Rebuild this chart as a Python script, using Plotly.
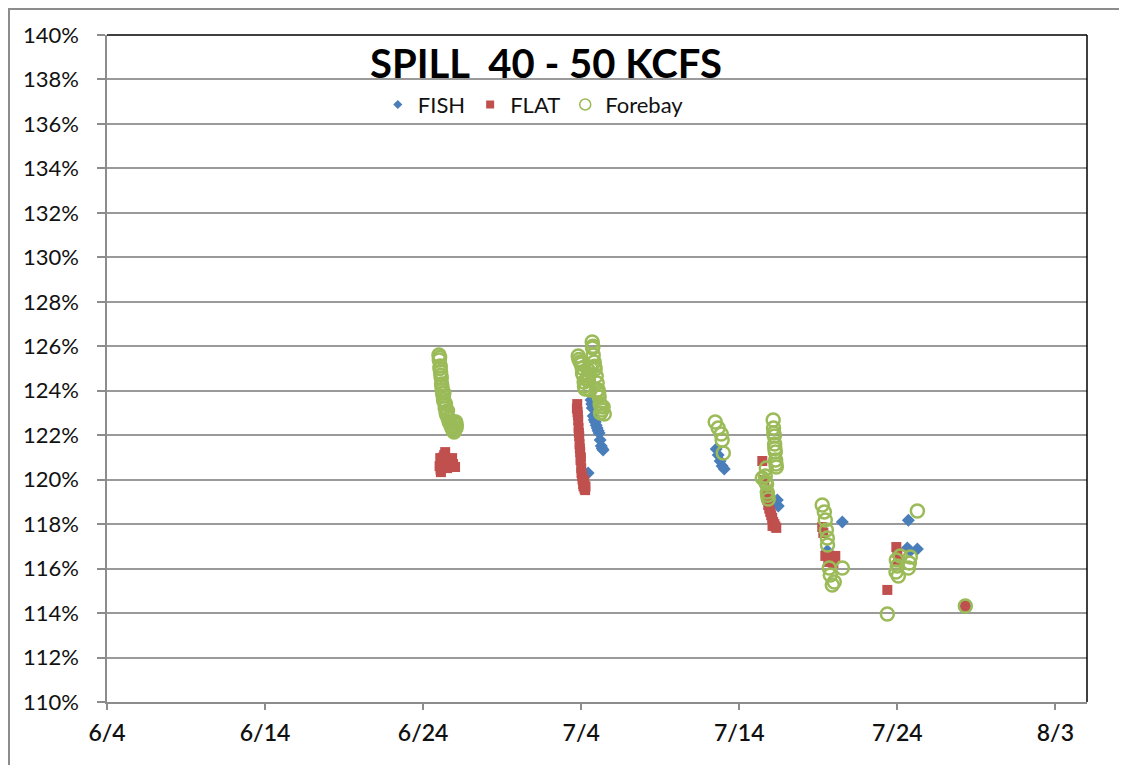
import plotly.graph_objects as go

YEAR = "2011"

# ---- data ----
fish_time = ["06-25 06:00", "06-25 14:00",
             "07-04 10:30", "07-04 15:00", "07-04 16:00", "07-04 16:45", "07-04 18:15",
             "07-04 19:45", "07-04 21:15", "07-04 22:45",
             "07-05 00:15", "07-05 01:45", "07-05 03:15", "07-05 04:45", "07-05 06:30",
             "07-05 08:00", "07-05 09:20",
             "07-12 13:00", "07-12 16:00", "07-12 19:00", "07-12 22:00", "07-13 01:15",
             "07-16 09:45", "07-16 11:15",
             "07-19 13:40", "07-20 12:30",
             "07-24 15:10", "07-24 16:45", "07-24 19:40", "07-25 06:25",
             "07-28 07:15"]
fish_value = [120.9, 120.7,
              120.30, 123.58, 123.40, 123.22, 122.86,
              122.70, 122.59, 122.45,
              122.32, 122.20, 122.10, 121.78, 121.51,
              121.40, 121.33,
              121.38, 121.11, 120.84, 120.61, 120.48,
              119.08, 118.81,
              116.8, 118.10,
              116.93, 118.18, 116.79, 116.88,
              114.32]

flat_time = ["06-25 01:00", "06-25 02:00", "06-25 02:30", "06-25 03:00", "06-25 04:00",
             "06-25 05:30", "06-25 06:30", "06-25 08:00", "06-25 09:30", "06-25 10:00",
             "06-25 11:00", "06-25 12:30", "06-25 14:00", "06-25 15:30", "06-25 17:00",
             "06-25 19:00", "06-25 20:00", "06-25 21:30", "06-26 00:30",
             "07-03 17:30", "07-03 18:00", "07-03 18:30", "07-03 19:00", "07-03 19:30",
             "07-03 20:00", "07-03 20:30", "07-03 21:00", "07-03 21:30", "07-03 22:00",
             "07-03 22:30", "07-03 23:00", "07-03 23:30", "07-04 00:00", "07-04 00:30",
             "07-04 01:30", "07-04 02:00", "07-04 03:00", "07-04 03:30", "07-04 04:30",
             "07-04 05:00", "07-04 06:00", "07-04 06:30",
             "07-15 11:00", "07-15 14:00", "07-15 17:00", "07-15 18:30", "07-15 20:00",
             "07-15 21:30", "07-15 23:00", "07-16 00:30", "07-16 02:00", "07-16 02:30",
             "07-16 03:30", "07-16 05:15", "07-16 06:45", "07-16 08:15",
             "07-19 06:00", "07-19 07:40", "07-19 10:40", "07-19 15:10", "07-19 18:15",
             "07-19 22:50", "07-20 01:50",
             "07-23 08:50", "07-23 22:30", "07-24 00:00", "07-24 01:00",
             "07-28 07:15"]
flat_value = [120.61, 120.97, 120.45, 120.34, 120.79,
              120.60, 121.00, 121.11, 121.24, 120.70,
              120.88, 120.52, 120.90, 120.60, 120.79,
              120.75, 120.97, 120.70, 120.57,
              123.20, 123.40, 123.04, 122.90, 122.68,
              122.32, 122.10, 121.96, 121.60, 121.40,
              121.24, 120.88, 121.00, 120.52, 120.30,
              120.16, 120.00, 119.80, 119.70, 119.98,
              119.60, 119.53, 119.70,
              120.84, 119.98, 119.31, 119.10, 118.86,
              118.70, 118.55, 118.40, 118.28, 117.92,
              118.10, 118.00, 117.90, 117.83,
              117.87, 117.60, 116.57, 116.30, 116.57,
              116.25, 116.57,
              115.04, 116.97, 116.70, 116.39,
              114.32]

forebay_time = ["06-25 00:00", "06-25 00:30", "06-25 01:00", "06-25 01:30", "06-25 02:00",
                "06-25 02:30", "06-25 03:00", "06-25 03:30", "06-25 04:00", "06-25 04:30",
                "06-25 05:00", "06-25 05:30", "06-25 06:30", "06-25 07:00", "06-25 07:30",
                "06-25 08:00", "06-25 09:30", "06-25 10:00", "06-25 11:00", "06-25 12:00",
                "06-25 13:00", "06-25 14:00", "06-25 15:30", "06-25 17:00", "06-25 18:30",
                "06-25 20:00", "06-25 21:30", "06-25 22:00", "06-25 23:00", "06-26 00:30",
                "06-26 01:30", "06-26 02:00", "06-26 02:30",
                "07-03 19:30", "07-03 20:30", "07-03 22:30", "07-04 00:00", "07-04 01:30",
                "07-04 02:00", "07-04 03:00", "07-04 04:30", "07-04 05:00", "07-04 06:00",
                "07-04 08:00", "07-04 10:30", "07-04 11:00", "07-04 12:00", "07-04 13:30",
                "07-04 15:00", "07-04 16:45", "07-04 17:15", "07-04 17:45", "07-04 18:15",
                "07-04 19:45", "07-04 20:30", "07-04 21:15", "07-04 22:45", "07-04 23:30",
                "07-05 00:15", "07-05 01:45", "07-05 02:30", "07-05 03:15", "07-05 04:45",
                "07-05 05:30", "07-05 06:00", "07-05 07:45", "07-05 09:20", "07-05 11:00",
                "07-12 11:30", "07-12 16:00", "07-12 20:40", "07-12 22:00", "07-12 23:45",
                "07-15 11:00", "07-15 15:30", "07-15 16:00", "07-15 17:00", "07-15 17:30",
                "07-15 18:30", "07-15 19:00", "07-15 20:00", "07-16 03:30", "07-16 04:00",
                "07-16 04:30", "07-16 05:15", "07-16 05:45", "07-16 06:00", "07-16 06:45",
                "07-16 07:15", "07-16 07:45", "07-16 08:15",
                "07-19 06:00", "07-19 09:10", "07-19 10:40", "07-19 12:15", "07-19 13:40",
                "07-19 14:00", "07-19 16:40", "07-19 18:15", "07-19 21:15", "07-20 00:15",
                "07-20 12:30",
                "07-23 08:50", "07-23 22:00", "07-23 22:30", "07-24 00:00", "07-24 01:30",
                "07-24 04:30", "07-24 16:45", "07-24 18:15", "07-24 19:40", "07-25 06:25",
                "07-28 07:15"]
forebay_value = [125.61, 125.38, 125.50, 125.00, 125.11,
                 124.84, 124.70, 124.57, 124.30, 124.20,
                 124.03, 123.90, 123.76, 123.60, 123.90,
                 123.49, 123.22, 123.40, 123.00, 122.90,
                 123.10, 122.77, 122.60, 122.55, 122.40,
                 122.32, 122.20, 122.60, 122.14, 122.50,
                 122.59, 122.32, 122.45,
                 125.56, 125.40, 125.29, 125.20, 125.02,
                 124.80, 124.71, 124.39, 124.20, 124.08,
                 124.50, 124.93, 124.48, 124.70, 124.03,
                 125.00, 126.19, 125.92, 126.00, 125.61,
                 125.29, 125.10, 124.98, 124.66, 124.00,
                 124.35, 124.03, 123.90, 123.72, 123.40,
                 123.00, 123.30, 123.13, 123.27, 122.95,
                 122.59, 122.32, 122.05, 121.78, 121.20,
                 120.07, 120.16, 119.90, 120.52, 119.80,
                 119.44, 119.30, 119.13, 122.68, 122.32,
                 122.10, 121.96, 121.60, 121.40, 121.24,
                 120.88, 120.70, 120.57,
                 118.86, 118.55, 118.19, 117.74, 117.38,
                 117.06, 116.03, 115.71, 115.26, 115.40,
                 116.03,
                 113.96, 115.85, 116.39, 116.12, 115.67,
                 116.57, 116.03, 116.25, 116.52, 118.59,
                 114.32]

tick_dates = ["06-04", "06-14", "06-24", "07-04", "07-14", "07-24", "08-03"]
tick_labels = ["6/4", "6/14", "6/24", "7/4", "7/14", "7/24", "8/3"]
y_ticks = list(range(110, 141, 2))

def ts(lst):
    return [f"{YEAR}-{s}" for s in lst]

BLUE = "#4a7ebb"
RED = "#c0504d"
GREEN = "#9bbb59"
FONT = "Lato"

fig = go.Figure()
fig.add_trace(go.Scatter(x=ts(fish_time), y=fish_value, mode="markers", name="FISH",
                         showlegend=False,
                         marker=dict(symbol="diamond", size=10, color=BLUE)))
fig.add_trace(go.Scatter(x=ts(flat_time), y=flat_value, mode="markers", name="FLAT",
                         showlegend=False,
                         marker=dict(symbol="square", size=10, color=RED)))
fig.add_trace(go.Scatter(x=ts(forebay_time), y=forebay_value, mode="markers", name="Forebay",
                         showlegend=False,
                         marker=dict(symbol="circle-open", size=13, color=GREEN,
                                     line=dict(width=2.5, color=GREEN))))
# legend entries
fig.add_trace(go.Scatter(x=[None], y=[None], mode="markers", name="FISH",
                         marker=dict(symbol="diamond", size=7, color=BLUE)))
fig.add_trace(go.Scatter(x=[None], y=[None], mode="markers", name="FLAT",
                         marker=dict(symbol="square", size=8, color=RED)))
fig.add_trace(go.Scatter(x=[None], y=[None], mode="markers", name="Forebay",
                         marker=dict(symbol="circle-open", size=11, color=GREEN,
                                     line=dict(width=1.5, color=GREEN))))

# page has an 8px body margin, so the figure is sized/offset to compensate
fig.update_layout(
    width=1119, height=757,
    margin=dict(l=99, r=40, t=27, b=63),
    paper_bgcolor="white", plot_bgcolor="white",
    font=dict(family=FONT, color="#111111"),
    showlegend=True,
    legend=dict(orientation="h", x=0.435, xanchor="center", y=0.927, yanchor="top",
                font=dict(size=22, family=FONT, color="#111111"), itemwidth=30,
                bgcolor="rgba(0,0,0,0)"),
    annotations=[dict(text="<b>SPILL  40 - 50 KCFS</b>", xref="paper", yref="paper",
                      x=0.448, y=0.958, xanchor="center", yanchor="middle",
                      showarrow=False, font=dict(size=40, family=FONT, color="#000000"))],
    shapes=[
        dict(type="rect", xref="paper", yref="paper", x0=-0.1, x1=1.2, y0=-0.3, y1=1.039,
             line=dict(color="#8c8c8c", width=2), fillcolor="rgba(0,0,0,0)", layer="below"),
        dict(type="line", xref="paper", yref="paper", x0=0, x1=1, y0=1, y1=1,
             line=dict(color="#000000", width=1.5), layer="above"),
        dict(type="line", xref="paper", yref="paper", x0=1, x1=1, y0=0, y1=1,
             line=dict(color="#000000", width=1.5), layer="above"),
    ],
)
fig.update_xaxes(type="date", range=[f"{YEAR}-06-04", f"{YEAR}-08-05"],
                 tickvals=ts(tick_dates), ticktext=tick_labels,
                 showgrid=False, zeroline=False,
                 showline=True, linecolor="#8c8c8c", linewidth=1.5,
                 ticks="outside", ticklen=6, tickcolor="#8c8c8c", tickwidth=1.5,
                 ticklabelstandoff=4,
                 tickfont=dict(size=23, family=FONT, color="#111111", weight=600))
fig.update_yaxes(range=[110, 140], tickvals=y_ticks,
                 ticktext=[f"{v}%" for v in y_ticks],
                 showgrid=True, gridcolor="#9a9a9a", gridwidth=1.5, zeroline=False,
                 showline=True, linecolor="#8c8c8c", linewidth=1.5,
                 ticks="outside", ticklen=8, tickcolor="#8c8c8c", tickwidth=1.5,
                 ticklabelstandoff=14,
                 tickfont=dict(size=22, family=FONT, color="#111111"))

fig.write_html("out.html")
